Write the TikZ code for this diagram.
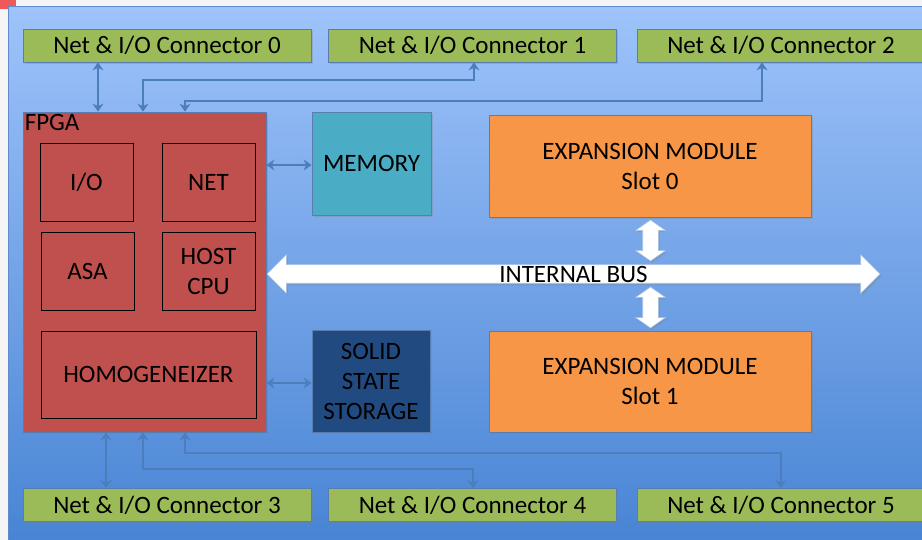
\documentclass[tikz,border=0pt]{standalone}
\usepackage{fontspec}
\setmainfont{Carlito}
\usetikzlibrary{arrows.meta,shapes.arrows,shadows}

\begin{document}
\begin{tikzpicture}[x=1pt,y=-1pt,
    txt/.style={font=\fontsize{25}{30}\selectfont, align=center, text=black},
    shade box/.style={drop shadow={shadow xshift=1.5pt, shadow yshift=-2pt, opacity=0.3}},
    conn/.style={txt, fill=conngreen, draw=boxline, line width=0.8pt, minimum width=288, minimum height=33, inner sep=0, shade box},
    unit/.style={txt, fill=fpgared, draw=black, line width=0.9pt, minimum width=93, minimum height=78, inner sep=0},
    block/.style={txt, draw=boxline, line width=0.8pt, inner sep=0, shade box},
    link/.style={draw=linkblue, line width=2.6pt, {Stealth[length=8pt,width=11pt]}-{Stealth[length=8pt,width=11pt]}},
    bus/.style={double arrow, fill=white, draw=busline, line width=0.6pt, inner sep=0, shade box},
    updown/.style={bus, rotate=90, minimum height=41, double arrow head extend=7,
          double arrow tip angle=110, text height=7.5pt, text depth=7.5pt}
]

    % colours of the blocks
    \definecolor{bgtop}{RGB}{158, 195, 250}
    \definecolor{bgbottom}{RGB}{72, 132, 212}
    \definecolor{bgedge}{RGB}{96, 140, 205}
    \definecolor{conngreen}{RGB}{155, 187, 89}
    \definecolor{fpgared}{RGB}{192, 80, 77}
    \definecolor{memaqua}{RGB}{75, 172, 198}
    \definecolor{ssdnavy}{RGB}{33, 75, 128}
    \definecolor{exporange}{RGB}{247, 150, 70}
    \definecolor{boxline}{RGB}{90, 125, 175}
    \definecolor{linkblue}{RGB}{76, 126, 188}
    \definecolor{busline}{RGB}{170, 195, 230}
    \definecolor{markred}{RGB}{238, 90, 90}

    \useasboundingbox (0,0) rectangle (922,540);

    % background panel
    \fill[white!96!black] (0,0) rectangle (922,540);
    \fill[markred] (0,0) rectangle (16,9);
    \shade[top color=bgtop, bottom color=bgbottom] (8,7) rectangle (926,544);
    \draw[bgedge, line width=1pt] (8,544) -- (8,7) -- (926,7);

    % connectors on top and bottom
    \node[conn] (c0) at (167,45.5) {Net \& I/O Connector 0};
    \node[conn] (c1) at (472.5,45.5) {Net \& I/O Connector 1};
    \node[conn] (c2) at (781,45.5) {Net \& I/O Connector 2};
    \node[conn] (c3) at (167,505) {Net \& I/O Connector 3};
    \node[conn] (c4) at (472.5,505) {Net \& I/O Connector 4};
    \node[conn] (c5) at (781,505) {Net \& I/O Connector 5};

    % FPGA and its units
    \node[block, fill=fpgared, minimum width=243, minimum height=320,
          label={[txt, anchor=north west, inner sep=2pt]north west:FPGA}] (fpga) at (144.5,272) {};
    \node[unit] (io) at (86.5,182) {I/O};
    \node[unit] (net) at (208.5,182) {NET};
    \node[unit] (asa) at (87.5,271) {ASA};
    \node[unit] (host) at (208.5,271) {HOST\\CPU};
    \node[unit, minimum width=215, minimum height=87] (homog) at (148.5,374.5) {HOMOGENEIZER};

    % memory and storage
    \node[block, fill=memaqua, minimum width=119, minimum height=103] (mem) at (371.5,163.5) {MEMORY};
    \node[block, fill=ssdnavy, minimum width=118, minimum height=102] (ssd) at (371,381) {SOLID\\STATE\\STORAGE};

    % expansion slots
    \node[block, fill=exporange, minimum width=322, minimum height=102] (slot0) at (650,166) {EXPANSION MODULE\\Slot 0};
    \node[block, fill=exporange, minimum width=322, minimum height=101] (slot1) at (650,381.5) {EXPANSION MODULE\\Slot 1};

    % internal bus
    \node[bus, minimum height=613, double arrow head extend=10, double arrow tip angle=90,
          text height=16.5pt, text depth=1.5pt] (ibus) at (573.5,274) {};
    \node[txt, inner sep=0] (ibuslabel) at (ibus.center) {INTERNAL BUS};
    \node[updown] (up) at (650.5,240.5) {};
    \node[updown] (down) at (650.5,307.5) {};

    % links to the connectors
    \draw[link] (c0.south -| 98,0) -- (fpga.north -| 98,0);
    \draw[link] (fpga.north -| 143,0) |- (474,80) -- (c1.south -| 474,0);
    \draw[link] (fpga.north -| 185,0) |- (762,101) -- (c2.south -| 762,0);
    \draw[link] (fpga.south -| 106,0) -- (c3.north -| 106,0);
    \draw[link] (fpga.south -| 143,0) |- (473,469) -- (c4.north -| 473,0);
    \draw[link] (fpga.south -| 185,0) |- (781,453) -- (c5.north);

    % links to memory and storage
    \draw[link] (fpga.east |- 0,165) -- (mem.west |- 0,165);
    \draw[link] (fpga.east |- 0,383) -- (ssd.west |- 0,383);

\end{tikzpicture}
\end{document}
